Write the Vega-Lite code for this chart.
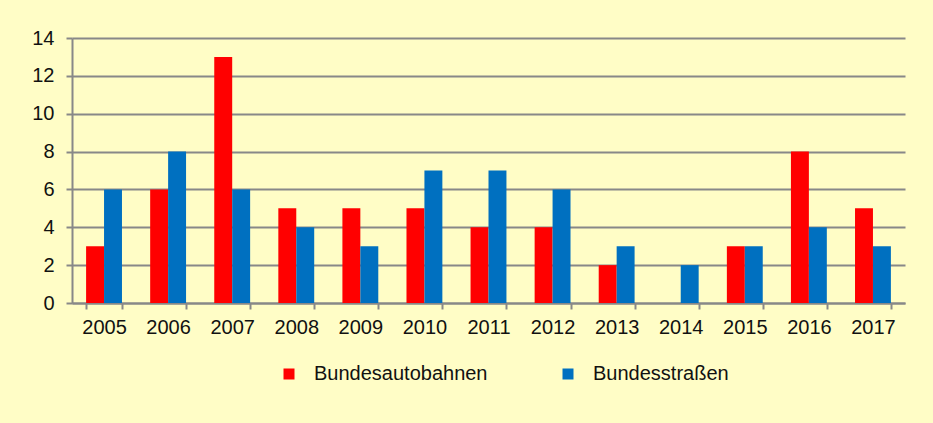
{
  "$schema": "https://vega.github.io/schema/vega-lite/v6.json",
  "width": 833,
  "height": 265,
  "autosize": {"type": "none"},
  "padding": {"left": 72, "top": 38, "right": 28, "bottom": 120},
  "background": "#FFFDC6",
  "data": {
    "values": [
      {"year": "2005", "series": "Bundesautobahnen", "value": 3},
      {"year": "2005", "series": "Bundesstraßen", "value": 6},
      {"year": "2006", "series": "Bundesautobahnen", "value": 6},
      {"year": "2006", "series": "Bundesstraßen", "value": 8},
      {"year": "2007", "series": "Bundesautobahnen", "value": 13},
      {"year": "2007", "series": "Bundesstraßen", "value": 6},
      {"year": "2008", "series": "Bundesautobahnen", "value": 5},
      {"year": "2008", "series": "Bundesstraßen", "value": 4},
      {"year": "2009", "series": "Bundesautobahnen", "value": 5},
      {"year": "2009", "series": "Bundesstraßen", "value": 3},
      {"year": "2010", "series": "Bundesautobahnen", "value": 5},
      {"year": "2010", "series": "Bundesstraßen", "value": 7},
      {"year": "2011", "series": "Bundesautobahnen", "value": 4},
      {"year": "2011", "series": "Bundesstraßen", "value": 7},
      {"year": "2012", "series": "Bundesautobahnen", "value": 4},
      {"year": "2012", "series": "Bundesstraßen", "value": 6},
      {"year": "2013", "series": "Bundesautobahnen", "value": 2},
      {"year": "2013", "series": "Bundesstraßen", "value": 3},
      {"year": "2014", "series": "Bundesautobahnen", "value": 0},
      {"year": "2014", "series": "Bundesstraßen", "value": 2},
      {"year": "2015", "series": "Bundesautobahnen", "value": 3},
      {"year": "2015", "series": "Bundesstraßen", "value": 3},
      {"year": "2016", "series": "Bundesautobahnen", "value": 8},
      {"year": "2016", "series": "Bundesstraßen", "value": 4},
      {"year": "2017", "series": "Bundesautobahnen", "value": 5},
      {"year": "2017", "series": "Bundesstraßen", "value": 3}
    ]
  },
  "mark": {"type": "bar"},
  "encoding": {
    "x": {
      "field": "year",
      "type": "nominal",
      "scale": {"paddingInner": 0.44, "paddingOuter": 0.22},
      "axis": {
        "title": null,
        "labelAngle": 0,
        "labelFont": "Liberation Sans",
        "labelFontSize": 20,
        "labelColor": "#111111",
        "labelPadding": 8,
        "tickBand": "extent",
        "tickSize": 6,
        "tickColor": "#888888",
        "tickWidth": 2,
        "domainColor": "#888888",
        "domainWidth": 2,
        "grid": false
      }
    },
    "xOffset": {"field": "series", "type": "nominal", "scale": {"paddingInner": 0, "paddingOuter": 0}},
    "y": {
      "field": "value",
      "type": "quantitative",
      "scale": {"domain": [0, 14]},
      "axis": {
        "title": null,
        "values": [0, 2, 4, 6, 8, 10, 12, 14],
        "labelFont": "Liberation Sans",
        "labelFontSize": 20,
        "labelColor": "#111111",
        "labelPadding": 12,
        "tickSize": 6,
        "tickColor": "#888888",
        "tickWidth": 2,
        "domainColor": "#888888",
        "domainWidth": 2,
        "grid": true,
        "gridColor": "#888888",
        "gridWidth": 2
      }
    },
    "color": {
      "field": "series",
      "type": "nominal",
      "scale": {"domain": ["Bundesautobahnen", "Bundesstraßen"], "range": ["#FF0000", "#0070C0"]},
      "legend": {
        "title": null,
        "orient": "none",
        "direction": "horizontal",
        "legendX": 207,
        "legendY": 326,
        "symbolType": "square",
        "symbolSize": 121,
        "symbolStrokeWidth": 0,
        "labelFont": "Liberation Sans",
        "labelFontSize": 20,
        "labelColor": "#111111",
        "labelLimit": 400,
        "labelOffset": 15,
        "columnPadding": 70
      }
    }
  },
  "config": {"view": {"stroke": null}}
}
